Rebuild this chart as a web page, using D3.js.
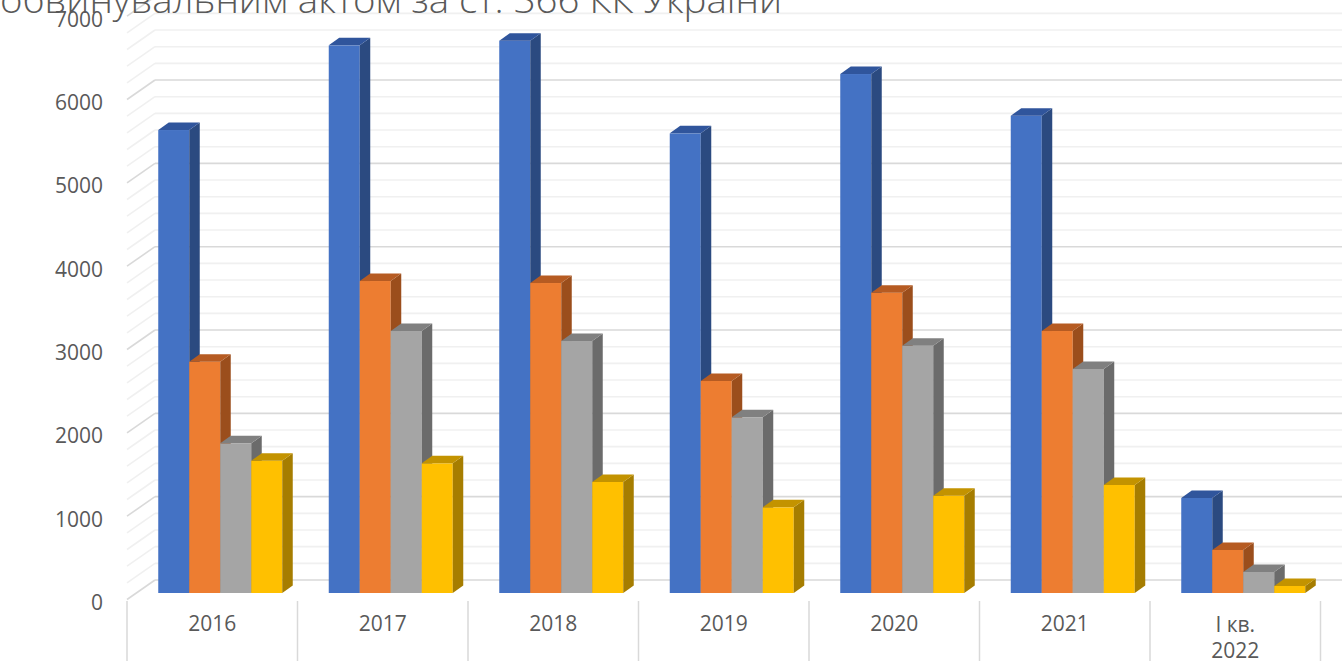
<!DOCTYPE html>
<html>
<head>
<meta charset="utf-8">
<script src="https://cdn.jsdelivr.net/npm/d3@7"></script>
<style>
  html, body { margin: 0; padding: 0; background: #fff; overflow: hidden; }
  svg { display: block; }
</style>
</head>
<body>
<div id="chart"></div>
<script>
// chart data
const categories = ["2016", "2017", "2018", "2019", "2020", "2021", "І кв.|2022"];
const seriesNames = ["Ряд 1", "Ряд 2", "Ряд 3", "Ряд 4"];
const series1 = [5556, 6572, 6628, 5516, 6228, 5728, 1140];
const series2 = [2776, 3744, 3720, 2544, 3604, 3144, 516];
const series3 = [1796, 3144, 3024, 2108, 2968, 2688, 252];
const series4 = [1588, 1556, 1332, 1028, 1168, 1296, 84];
const yTicks = [0, 1000, 2000, 3000, 4000, 5000, 6000, 7000];
const titleText = "обвинувальним актом за ст. 366 КК України";

const width = 1342, height = 661;

// face colours: front, side, top
const palette = [
    {front: "#4472C4", side: "#2B4A80", top: "#30559C"},
    {front: "#ED7D31", side: "#9B4E1C", top: "#B65B22"},
    {front: "#A5A5A5", side: "#6B6B6B", top: "#808080"},
    {front: "#FFC000", side: "#A67D00", top: "#C39300"}
];

const values = [series1, series2, series3, series4];

// 3D box geometry
const floorFront = 599.5, floorBack = 580;
const wallDx = 28, wallDy = floorFront - floorBack;
const barDx = 10.5, barDy = 7.5;           // depth of each bar
const barShiftX = 8, barBase = 593;        // front plane of the bars

const svg = d3.select("#chart")
    .append("svg")
    .attr("width", width)
    .attr("height", height);

const x = d3.scaleBand()
    .domain(categories)
    .range([127, 1320.5])
    .paddingInner(0)
    .paddingOuter(0);

const xSub = d3.scaleBand()
    .domain(seriesNames)
    .range([0, x.bandwidth()])
    .paddingInner(0)
    .paddingOuter(0.75);

const yBack = d3.scaleLinear().domain([0, 7000]).range([floorBack, floorBack - 583.3]);
const yBar = d3.scaleLinear().domain([0, 7000]).range([barBase, barBase - 583.3]);

// gridlines: back wall + left wall
const gridVals = d3.range(0, 7001, 200);
const grid = svg.append("g");
gridVals.forEach(v => {
    const major = v % 1000 === 0;
    const col = major ? "#D9D9D9" : "#F0F0F0";
    const yb = yBack(v);
    grid.append("line")
        .attr("x1", 127 + wallDx).attr("x2", width)
        .attr("y1", yb).attr("y2", yb)
        .attr("stroke", col).attr("stroke-width", 1.6);
    grid.append("line")
        .attr("x1", 127).attr("y1", yb + wallDy)
        .attr("x2", 127 + wallDx).attr("y2", yb)
        .attr("stroke", col).attr("stroke-width", 1.6);
});

// category dividers under the floor
svg.append("g").selectAll("line")
    .data(d3.range(categories.length + 1))
    .enter()
    .append("line")
    .attr("x1", i => 127 + i * x.step())
    .attr("x2", i => 127 + i * x.step())
    .attr("y1", 601).attr("y2", height)
    .attr("stroke", "#D9D9D9")
    .attr("stroke-width", 1.5);

// bars
const bars = svg.append("g");
categories.forEach((cat, ci) => {
    seriesNames.forEach((s, si) => {
        const v = values[si][ci];
        const x0 = x(cat) + xSub(s) + barShiftX;
        const w = xSub.bandwidth();
        const yt = yBar(v);
        const c = palette[si];
        // front
        bars.append("rect")
            .attr("x", x0).attr("y", yt)
            .attr("width", w).attr("height", barBase - yt)
            .attr("fill", c.front);
        // side
        bars.append("path")
            .attr("d", `M${x0 + w},${yt} L${x0 + w + barDx},${yt - barDy} L${x0 + w + barDx},${barBase - barDy} L${x0 + w},${barBase} Z`)
            .attr("fill", c.side);
        // top
        bars.append("path")
            .attr("d", `M${x0},${yt} L${x0 + barDx},${yt - barDy} L${x0 + w + barDx},${yt - barDy} L${x0 + w},${yt} Z`)
            .attr("fill", c.top);
    });
});

// y labels
svg.append("g").selectAll("text")
    .data(yTicks)
    .enter()
    .append("text")
    .attr("x", 103)
    .attr("y", d => yBack(d) + wallDy + 3)
    .attr("dy", "0.35em")
    .attr("text-anchor", "end")
    .attr("font-family", "'Open Sans', sans-serif")
    .attr("font-size", 21)
    .attr("fill", "#595959")
    .text(d => d);

// x labels
const xl = svg.append("g");
categories.forEach(cat => {
    const lines = cat.split("|");
    const t = xl.append("text")
        .attr("x", x(cat) + x.bandwidth() / 2)
        .attr("y", lines.length > 1 ? 625 : 623.5)
        .attr("text-anchor", "middle")
        .attr("font-family", "'Open Sans', sans-serif")
        .attr("font-size", 21)
        .attr("fill", "#595959");
    lines.forEach((ln, i) => {
        t.append("tspan")
            .attr("x", x(cat) + x.bandwidth() / 2)
            .attr("dy", i === 0 ? "0.35em" : 26)
            .text(ln);
    });
});

// title (cut off at the top in the original)
svg.append("text")
    .attr("x", 0)
    .attr("y", 13)
    .attr("font-family", "'Open Sans', sans-serif")
    .attr("font-weight", 300)
    .attr("font-size", 36)
    .attr("fill", "#595959")
    .attr("textLength", 782)
    .attr("lengthAdjust", "spacingAndGlyphs")
    .text(titleText);
</script>
</body>
</html>
